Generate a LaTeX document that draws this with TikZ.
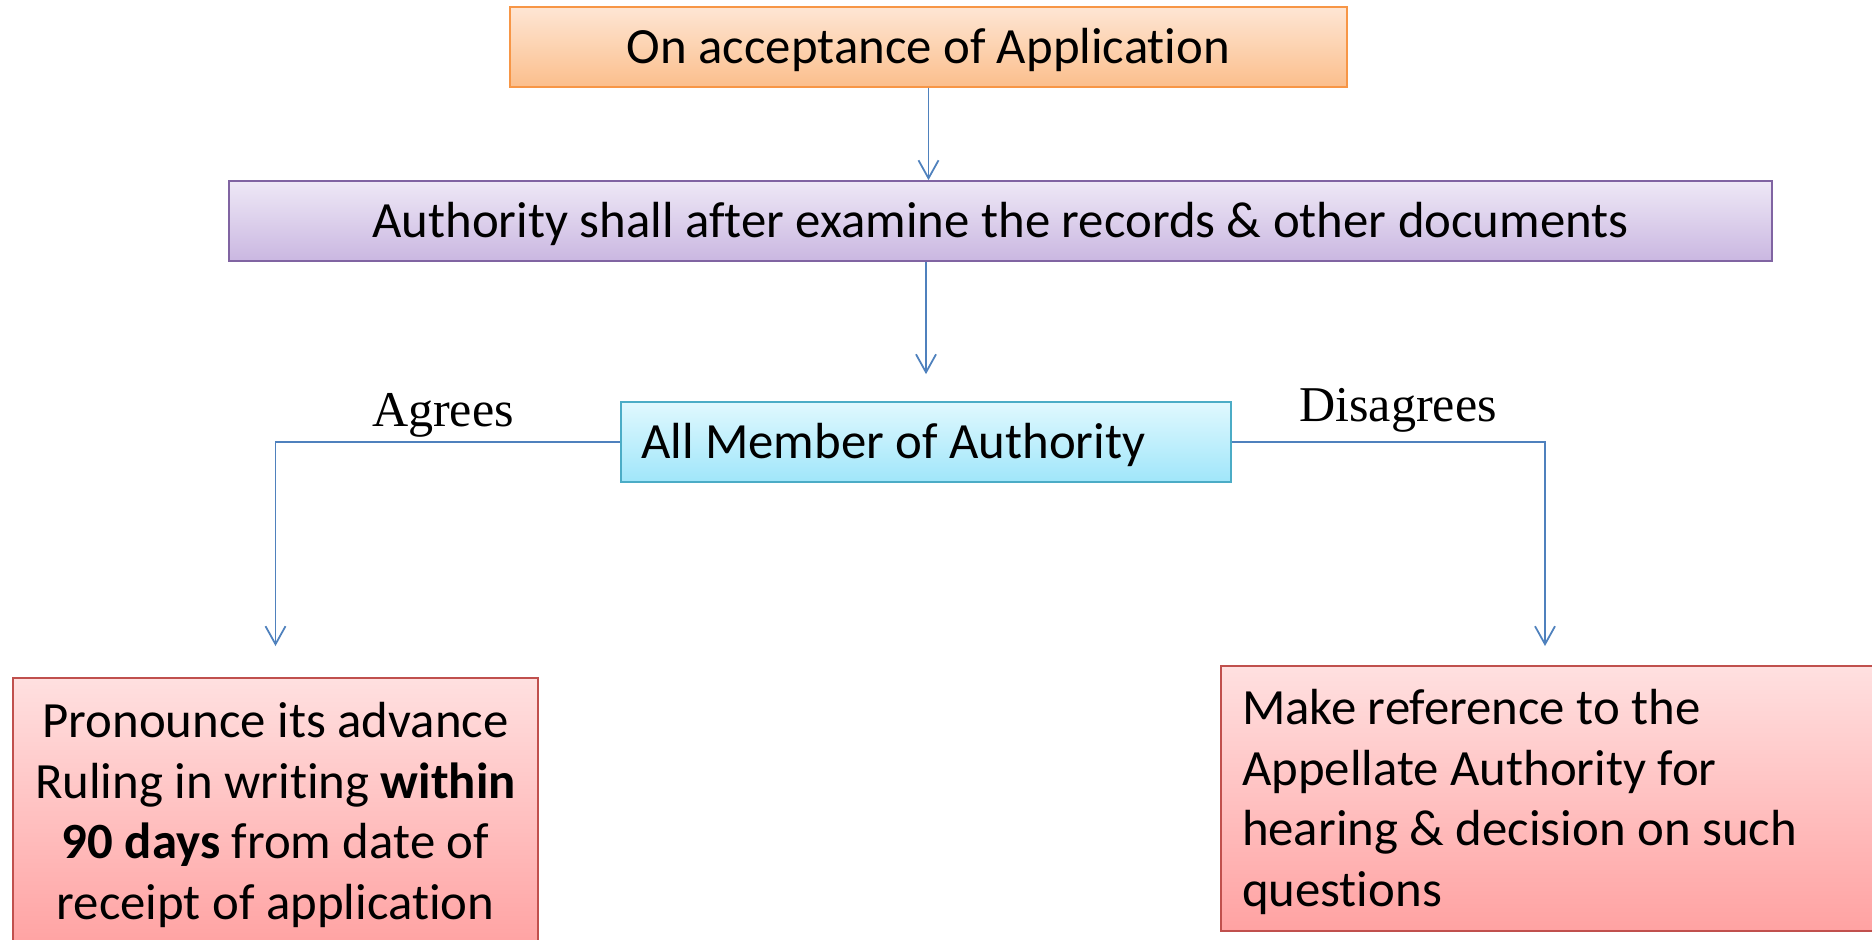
\documentclass[tikz,border=0pt]{standalone}
\usepackage{fontspec}
\setmainfont{Carlito}[Ligatures=NoCommon]
\newfontfamily\labelfont{Liberation Serif}
\usetikzlibrary{arrows.meta,positioning}

\definecolor{linkblue}{HTML}{4F81BD}
\definecolor{orangeline}{HTML}{F79646}
\definecolor{purpleline}{HTML}{8064A2}
\definecolor{cyanline}{HTML}{4BACC6}
\definecolor{redline}{HTML}{C0504D}

\tikzset{
  box/.style={draw, line width=1pt, inner sep=0pt, minimum height=1.6cm,
    font=\fontsize{28.9}{34.5}\selectfont},
  oneline/.style={text height=0.86cm, text depth=0.2cm},
  orangebox/.style={box, oneline, draw=orangeline, top color={rgb,255:red,254;green,230;blue,212}, bottom color={rgb,255:red,251;green,190;blue,140}},
  purplebox/.style={box, oneline, draw=purpleline, top color={rgb,255:red,238;green,232;blue,246}, bottom color={rgb,255:red,202;green,183;blue,225}},
  cyanbox/.style={box, oneline, draw=cyanline, top color={rgb,255:red,224;green,248;blue,254}, bottom color={rgb,255:red,160;green,230;blue,250}},
  redbox/.style={box, text height=0.75cm, draw=redline, top color={rgb,255:red,255;green,224;blue,224}, bottom color={rgb,255:red,255;green,162;blue,162}},
  link/.style={draw=linkblue, line width=1pt, -{Straight Barb[length=3.6mm,width=4mm]}},
  lbl/.style={font=\labelfont\fontsize{28.5}{34.8}\selectfont, inner sep=0pt}
}

\begin{document}
\begin{tikzpicture}
  \useasboundingbox (0,0) rectangle (37.44,-18.78);
  \clip (0,0) rectangle (37.44,-18.78);

  % boxes
  \node[orangebox, minimum width=16.74cm] (accept) at (18.57,-0.94) {On acceptance of Application};
  \node[purplebox, minimum width=30.86cm] (examine) at (20.01,-4.42) {Authority shall after examine the records \& other documents};
  \node[cyanbox, inner xsep=0.4cm, text width=11.4cm, align=flush left] (members) at (18.52,-8.84) {All Member of Authority};
  \node[redbox, anchor=north, text width=10.5cm, align=flush center, text depth=3.77cm, minimum height=5.4cm] (ruling) at (5.51,-13.54)
    {Pronounce its advance\\ Ruling in writing \textbf{within}\\ \textbf{90 days} from date of\\ receipt of application};
  \node[redbox, inner xsep=0.42cm, text width=12.74cm, align=flush left, text depth=3.71cm, minimum height=5.3cm] (refer) at (31.21,-15.97)
    {Make reference to the\\ Appellate Authority for\\ hearing \& decision on such\\ questions};

  % connectors
  \draw[link] (accept.south) -- (examine.north -| accept.south);
  \draw[link, shorten >=0.54cm] (examine.south -| members.north) -- (members.north);
  \coordinate (agr) at (5.51,-12.92);
  \coordinate (dis) at (30.9,-12.92);
  \draw[link] (members.west) -| (agr);
  \draw[link] (members.east) -| (dis);

  \node[lbl] (agree) at (8.86,-8.3) {Agrees};
  \node[lbl] (disagree) at (27.96,-8.2) {Disagrees};
\end{tikzpicture}
\end{document}
